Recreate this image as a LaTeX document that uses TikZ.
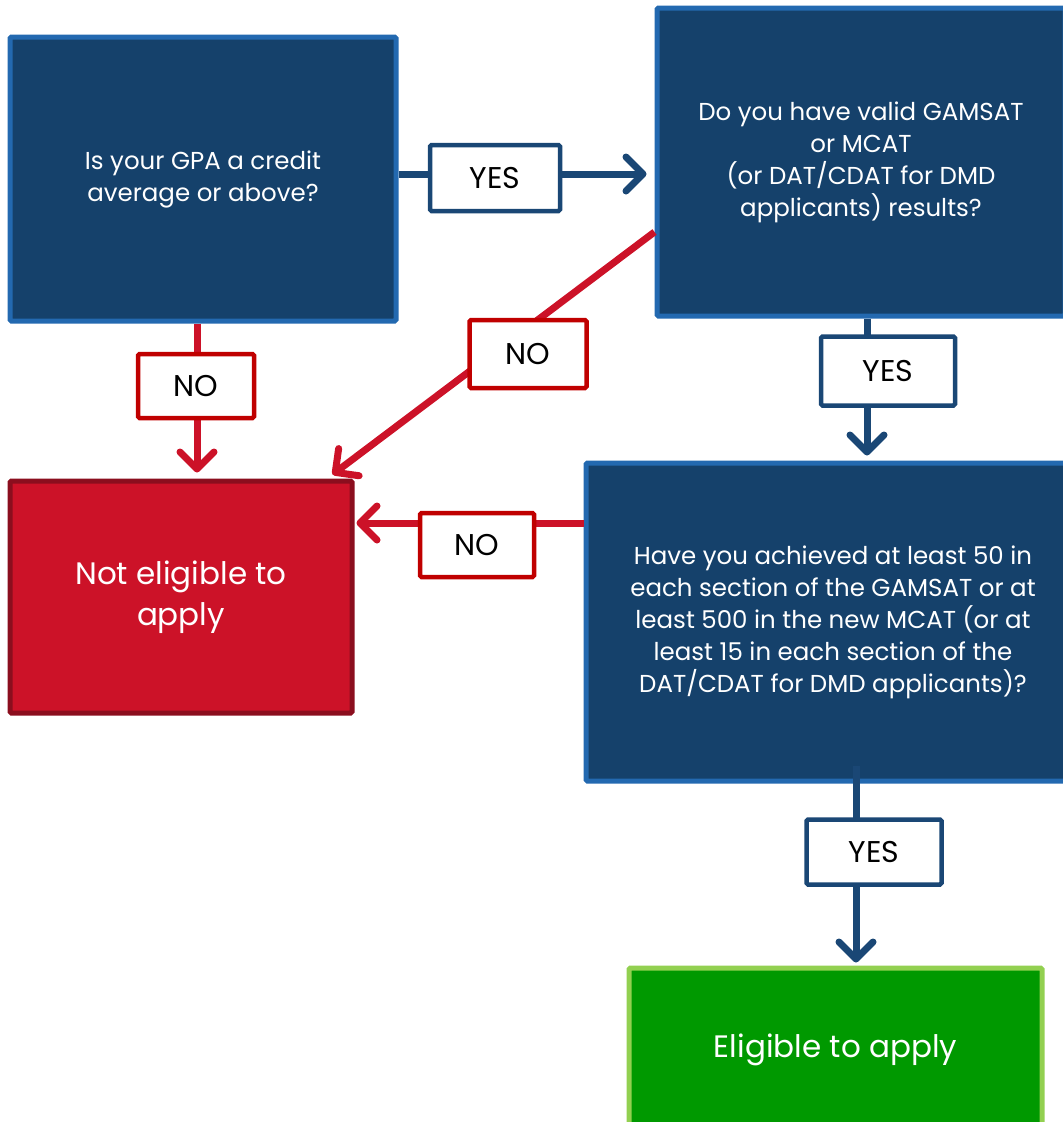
\documentclass[tikz,border=0pt]{standalone}
\usepackage{fontspec}
\setmainfont{Poppins}
\usetikzlibrary{arrows.meta,calc}
\definecolor{navyfill}{HTML}{15416B}
\definecolor{navyedge}{HTML}{2369B0}
\definecolor{navyline}{HTML}{1A4775}
\definecolor{redfill}{HTML}{CC1228}
\definecolor{rededge}{HTML}{8B0E1E}
\definecolor{redline}{HTML}{CC1228}
\definecolor{redlab}{HTML}{C00000}
\definecolor{greenfill}{HTML}{009900}
\definecolor{greenedge}{HTML}{92D050}
\tikzset{
  qbox/.style={draw=navyedge, fill=navyfill, line width=5pt, rounded corners=1.5pt,
    text=white, align=center, inner sep=0pt,
    font=\fontsize{24.5}{32}\selectfont},
  endbox/.style={line width=5pt, rounded corners=1.5pt, text=white, align=center,
    inner sep=0pt, font=\fontsize{31}{41}\selectfont},
  conn/.style={line width=7pt, -{Straight Barb[length=17pt,width=34pt,round]}},
  yesconn/.style={conn, draw=navyline},
  noconn/.style={conn, draw=redline},
  lab/.style={fill=white, line width=4.5pt, rounded corners=1.5pt, inner sep=0pt,
    text=black, font=\fontsize{30}{34}\selectfont},
  yeslab/.style={lab, draw=navyline},
  nolab/.style={lab, draw=redlab}
}
\begin{document}
\begin{tikzpicture}[x=1pt,y=-1pt]
\useasboundingbox (0,0) rectangle (1063,1122);
\clip (0,0) rectangle (1063,1122);

% boxes
\node[qbox, minimum width=386pt, minimum height=284pt] (gpa) at (203,179)
  {\rule{0pt}{6pt}Is your GPA a credit\\average or above?};
\node[qbox, minimum width=408pt, minimum height=308pt] (gam) at (861,162)
  {\rule{0pt}{6pt}Do you have valid GAMSAT\\or MCAT\\(or DAT/CDAT for DMD\\applicants) results?};
\node[qbox, minimum width=494pt, minimum height=318pt] (ach) at (833,622)
  {Have you achieved at least 50 in\\each section of the GAMSAT or at\\least 500 in the new MCAT (or at\\least 15 in each section of the\\DAT/CDAT for DMD applicants)?};
\node[endbox, draw=rededge, fill=redfill, minimum width=342pt, minimum height=232pt] (notel) at (181,597)
  {Not eligible to\\apply};
\node[endbox, draw=greenedge, fill=greenfill, minimum width=413pt, minimum height=164pt] (elig) at (835.5,1050)
  {Eligible to apply};

% connectors
\draw[yesconn, shorten >=8pt] ([yshift=5pt]gpa.east) -- ([yshift=5pt]gpa.east -| gam.west);
\draw[noconn, shorten >=6pt] ([xshift=-6pt]gpa.south) -- ([xshift=-6pt]gpa.south |- notel.north);
\draw[noconn] ([yshift=-70pt]gam.west) -- ([xshift=-22pt,yshift=4pt]notel.north east);
\draw[yesconn, shorten >=5pt] ([xshift=6pt]gam.south) -- ([xshift=6pt]gam.south |- ach.north);
\draw[noconn, shorten >=2pt] ([yshift=99pt]ach.west) -- ([yshift=99pt]ach.west -| notel.east);
\draw[yesconn, shorten >=3pt] ([xshift=23pt,yshift=18pt]ach.south) -- ([xshift=23pt]ach.south |- elig.north);

% labels
\node[yeslab, minimum width=130pt, minimum height=66pt] (y1) at (495,178) {YES};
\node[nolab, minimum width=116pt, minimum height=64pt] (n1) at (196,386) {NO};
\node[nolab, minimum width=117pt, minimum height=68pt] (n2) at (528,354) {NO};
\node[yeslab, minimum width=134pt, minimum height=69pt] (y2) at (888,371) {YES};
\node[nolab, minimum width=114pt, minimum height=64pt] (n3) at (477,545) {NO};
\node[yeslab, minimum width=135pt, minimum height=65pt] (y3) at (874,852) {YES};
\end{tikzpicture}
\end{document}
